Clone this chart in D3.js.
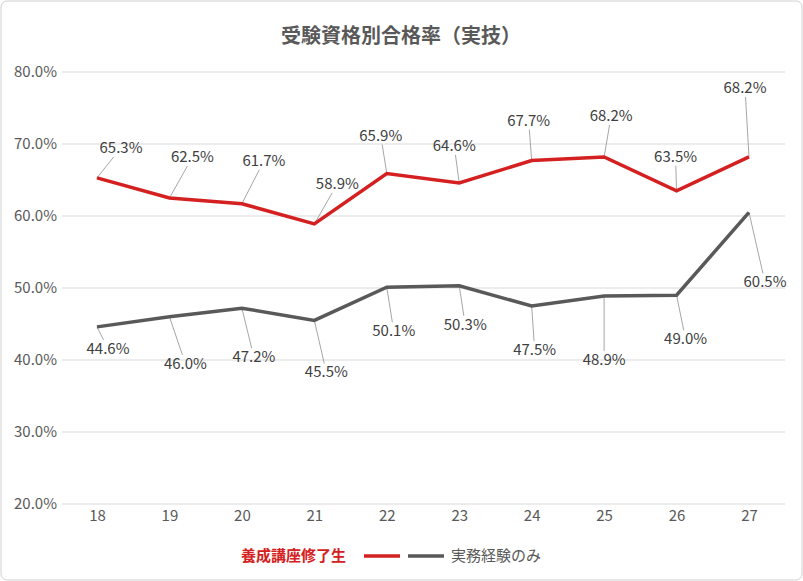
<!DOCTYPE html>
<html><head><meta charset="utf-8">
<script src="https://cdn.jsdelivr.net/npm/d3@7"></script>
<style>body{margin:0;background:#fff}text{font-family:"Noto Sans CJK JP","Noto Sans",sans-serif}</style>
</head><body><svg id="c" width="803" height="581"></svg>
<script>
const categories=["18","19","20","21","22","23","24","25","26","27"];
const seriesNames=["養成講座修了生","実務経験のみ"];
const trainees=[65.3,62.5,61.7,58.9,65.9,64.6,67.7,68.2,63.5,68.2];
const experience=[44.6,46.0,47.2,45.5,50.1,50.3,47.5,48.9,49.0,60.5];
const yTicks=[20,30,40,50,60,70,80];
// label offsets (layout)
const offA=[[24,-30],[23,-41],[22,-43],[23,-40],[-6,-38],[-5,-37],[-3,-40],[7,-41],[-1,-34],[-4,-69]];
const offB=[[11,22],[16,47],[12,49],[12,52],[7,44],[6,39],[3,44],[0,64],[9,44],[16,70]];

const svg=d3.select("#c");
svg.append("rect").attr("x",1).attr("y",1).attr("width",801).attr("height",579).attr("rx",6).attr("fill","#fff").attr("stroke","#d0d0d0");
svg.append("text").attr("x",401).attr("y",43).attr("text-anchor","middle").attr("font-size",20).attr("font-weight","bold").attr("fill","#595959").text("受験資格別合格率（実技）");
const x=d3.scalePoint().domain(categories).range([97,749]);
const y=d3.scaleLinear().domain([20,80]).range([504,72]);
const g=svg.append("g");
yTicks.forEach(t=>{g.append("line").attr("x1",62).attr("x2",785).attr("y1",y(t)).attr("y2",y(t)).attr("stroke","#d9d9d9");});
const ya=svg.append("g").attr("transform","translate(62,0)").call(d3.axisLeft(y).tickValues(yTicks).tickSize(0).tickFormat(d=>d.toFixed(1)+"%"));
ya.select(".domain").remove();
ya.selectAll("text").attr("font-size",15).attr("fill","#595959").attr("dx",-2).style("font-family","'Noto Sans CJK JP'");
const xa=svg.append("g").attr("transform","translate(0,504)").call(d3.axisBottom(x).tickSize(0));
xa.select(".domain").remove();
xa.selectAll("text").attr("font-size",15).attr("fill","#595959").attr("dy",14).style("font-family","'Noto Sans CJK JP'");
const line=d3.line().x((d,i)=>x(categories[i])).y(d=>y(d));
function series(vals,offs,color){
  vals.forEach((v,i)=>{
    const px=x(categories[i]),py=y(v),[dx,dy]=offs[i];
    const hw=24,hh=9;
    const s=Math.min(Math.abs(dx)>0?hw/Math.abs(dx):1e9,hh/Math.abs(dy));
    const k=Math.max(0,1-s);
    g.append("line").attr("x1",px).attr("y1",py).attr("x2",px+dx*k).attr("y2",py+dy*k).attr("stroke","#a6a6a6").attr("stroke-width",1);
    g.append("text").attr("x",px+dx).attr("y",py+dy+5).attr("text-anchor","middle").attr("font-size",15).attr("fill","#404040").text(v.toFixed(1)+"%");
  });
  g.append("path").attr("d",line(vals)).attr("fill","none").attr("stroke",color).attr("stroke-width",3.5);
}
series(trainees,offA,"#d42020");
series(experience,offB,"#595959");
const lg=svg.append("g");
lg.append("text").attr("x",346).attr("y",561).attr("text-anchor","end").attr("font-size",15).attr("font-weight","bold").attr("fill","#d42020").text(seriesNames[0]);
lg.append("line").attr("x1",364).attr("x2",400).attr("y1",556).attr("y2",556).attr("stroke","#d42020").attr("stroke-width",3.5);
lg.append("line").attr("x1",408).attr("x2",444).attr("y1",556).attr("y2",556).attr("stroke","#595959").attr("stroke-width",3.5);
lg.append("text").attr("x",451).attr("y",561).attr("font-size",15).attr("fill","#595959").text(seriesNames[1]);
</script></body></html>
